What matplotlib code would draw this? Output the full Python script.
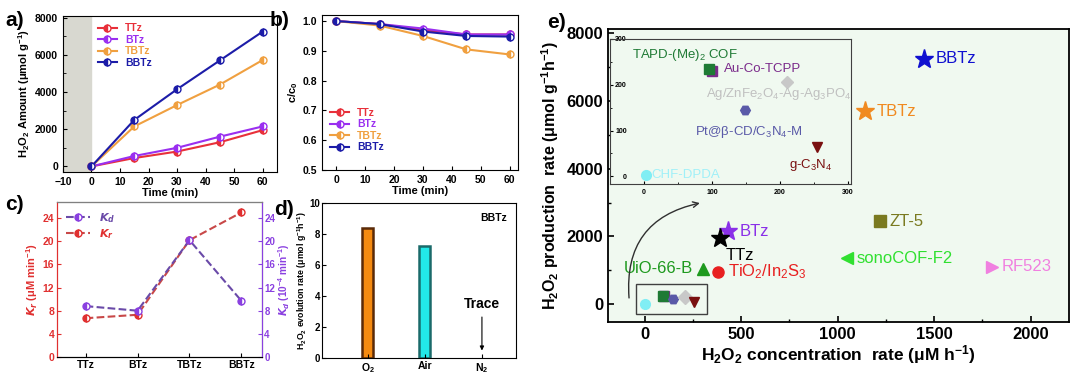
import numpy as np
import matplotlib
matplotlib.use('Agg')
from matplotlib import pyplot as plt
from matplotlib.ticker import MultipleLocator

plt.rcParams['font.family'] = ['Liberation Sans', 'DejaVu Sans']
plt.rcParams['font.weight'] = 'bold'
plt.rcParams['axes.labelweight'] = 'bold'
plt.rcParams['mathtext.default'] = 'regular'
plt.rcParams['xtick.direction'] = 'in'
plt.rcParams['ytick.direction'] = 'in'

# ---- data ----
samples = ['TTz', 'BTz', 'TBTz', 'BBTz']
sample_colors = ['#e8303a', '#9a2ff0', '#f0a040', '#1c1ca8']

time_min = [0, 15, 30, 45, 60]
h2o2_amount = {
    'TTz': [0, 450, 800, 1300, 1950],
    'BTz': [0, 560, 1000, 1600, 2150],
    'TBTz': [0, 2150, 3300, 4400, 5720],
    'BBTz': [0, 2500, 4150, 5700, 7250],
}
c_c0 = {
    'TTz': [1.0, 0.99, 0.970, 0.955, 0.955],
    'BTz': [1.0, 0.99, 0.975, 0.955, 0.955],
    'TBTz': [1.0, 0.985, 0.950, 0.905, 0.888],
    'BBTz': [1.0, 0.99, 0.965, 0.950, 0.948],
}

k_d = [8.8, 8.0, 20.2, 9.7]
k_r = [6.7, 7.3, 20.2, 25.0]

atmospheres = ['O$_2$', 'Air', 'N$_2$']
evolution_rate = [8.4, 7.25, 0.0]
bar_colors = ['#f58a10', '#22e8e8', '#ffffff']
bar_edges = ['#5a2a08', '#1a6a6a', '#ffffff']

# panel e main plot
ref_names = ['BBTz', 'TBTz', 'BTz', 'TTz', 'TiO$_2$/In$_2$S$_3$', 'UiO-66-B',
             'ZT-5', 'sonoCOF-F2', 'RF523']
ref_x = [1450, 1140, 430, 390, 380, 300, 1220, 1050, 1800]
ref_y = [7250, 5700, 2150, 1950, 950, 1050, 2450, 1350, 1100]
ref_marker = ['*', '*', '*', '*', 'o', '^', 's', '<', '>']
ref_color = ['#1010d0', '#f08a20', '#8a30e8', '#000000', '#e82020', '#1e9a1e',
             '#7a7a20', '#30e030', '#f080e0']

# low-value references (shown in the inset)
low_names = ['CHF-DPDA', 'TAPD-(Me)$_2$ COF', 'Au-Co-TCPP', 'Pt@\u03b2-CD/C$_3$N$_4$-M',
             'Ag/ZnFe$_2$O$_4$-Ag-Ag$_3$PO$_4$', 'g-C$_3$N$_4$']
low_x = [3, 100, 95, 148, 210, 255]
low_y = [3, 230, 235, 145, 205, 63]
low_marker = ['o', 's', 's', 'H', 'D', 'v']
low_color = ['#80eef4', '#7a2a8a', '#1f7a35', '#5a5aa8', '#c8c8c8', '#7a1010']

fig = plt.figure(figsize=(10.8, 3.78), dpi=100)

# ---- a) ----
ax_a = fig.add_axes([0.0583, 0.545, 0.198, 0.413])
ax_a.axvspan(-10, 0, color='#d8d8d0', zorder=0)
for name, col in zip(samples, sample_colors):
    ax_a.plot(time_min, h2o2_amount[name], '-o', color=col, lw=1.5, ms=5,
              fillstyle='left', markerfacecoloralt='white', mec=col, label=name)
ax_a.set_xlim(-10, 65)
ax_a.set_ylim(-300, 8100)
ax_a.set_xticks([-10, 0, 10, 20, 30, 40, 50, 60])
ax_a.set_yticks([0, 2000, 4000, 6000, 8000])
ax_a.yaxis.set_minor_locator(MultipleLocator(1000))
ax_a.tick_params(labelsize=7.5, length=3)
ax_a.tick_params(which='minor', length=2)
ax_a.set_xlabel('Time (min)', fontsize=8, labelpad=1)
ax_a.set_ylabel('H$_2$O$_2$ Amount (\u03bcmol g$^{-1}$)', fontsize=8, labelpad=2)
leg = ax_a.legend(loc='upper left', frameon=False, fontsize=7.5, handlelength=1.8,
                  labelspacing=0.15, borderpad=0.2, bbox_to_anchor=(0.13, 1.0))
for txt, col in zip(leg.get_texts(), sample_colors):
    txt.set_color(col)
fig.text(0.005, 0.93, 'a)', fontsize=15, fontweight='bold')

# ---- b) ----
ax_b = fig.add_axes([0.298, 0.550, 0.182, 0.410])
for name, col in zip(samples, sample_colors):
    ax_b.plot(time_min, c_c0[name], '-o', color=col, lw=1.5, ms=5,
              fillstyle='left', markerfacecoloralt='white', mec=col, label=name)
ax_b.set_xlim(-5, 63)
ax_b.set_ylim(0.5, 1.02)
ax_b.set_xticks([0, 10, 20, 30, 40, 50, 60])
ax_b.set_yticks([0.5, 0.6, 0.7, 0.8, 0.9, 1.0])
ax_b.tick_params(labelsize=7.5, length=3)
ax_b.set_xlabel('Time (min)', fontsize=8, labelpad=1)
ax_b.set_ylabel('c/c$_0$', fontsize=8, labelpad=2)
leg = ax_b.legend(loc='lower left', frameon=False, fontsize=7.5, handlelength=1.8,
                  labelspacing=0.15, borderpad=0.3, bbox_to_anchor=(0.0, 0.06))
for txt, col in zip(leg.get_texts(), sample_colors):
    txt.set_color(col)
fig.text(0.25, 0.93, 'b)', fontsize=15, fontweight='bold')

# ---- c) ----
ax_c = fig.add_axes([0.0528, 0.0556, 0.190, 0.410])
ax_c2 = ax_c.twinx()
xc = np.arange(len(samples))
ax_c2.plot(xc, k_d, '--o', color='#6a4aa8', lw=1.5, ms=5, fillstyle='left',
           markerfacecolor='#8a40e0', markerfacecoloralt='white', mec='#8a40e0',
           label='$\\mathit{K_d}$')
ax_c.plot(xc, k_r, '--o', color='#c84848', lw=1.5, ms=5, fillstyle='left',
          markerfacecolor='#e03030', markerfacecoloralt='white', mec='#e03030',
          label='$\\mathit{K_r}$')
for a in (ax_c, ax_c2):
    a.set_ylim(0, 26.8)
    a.set_yticks(range(0, 25, 4))
    a.tick_params(labelsize=7.5, length=3, pad=2)
ax_c2.tick_params(labelsize=7, pad=1.5)
ax_c.set_xlim(-0.55, 3.4)
ax_c.set_xticks(xc)
ax_c.set_xticklabels(samples)
ax_c.spines['left'].set_color('#e03030')
ax_c2.spines['left'].set_color('#e03030')
ax_c2.spines['right'].set_color('#8a40e0')
ax_c2.spines['top'].set_color('#808080')
ax_c.tick_params(axis='y', colors='#e03030')
ax_c2.tick_params(axis='y', colors='#8a40e0')
ax_c.set_ylabel('$\\mathit{K_r}$ (\u03bcM min$^{-1}$)', fontsize=8, color='#e03030', labelpad=2)
ax_c2.set_ylabel('$\\mathit{K_d}$ (10$^{-4}$ min$^{-1}$)', fontsize=7.2, color='#8a40e0', labelpad=0.5)
h1, l1 = ax_c2.get_legend_handles_labels()
h2, l2 = ax_c.get_legend_handles_labels()
leg = ax_c2.legend(h1 + h2, l1 + l2, loc='upper left', frameon=False, fontsize=8,
                   handlelength=2.2, labelspacing=0.2, borderpad=0.3)
for txt, col in zip(leg.get_texts(), ['#6a4aa8', '#e03030']):
    txt.set_color(col)
fig.text(0.005, 0.445, 'c)', fontsize=15, fontweight='bold')

# ---- d) ----
ax_d = fig.add_axes([0.298, 0.053, 0.180, 0.410])
xd = np.arange(len(atmospheres))
ax_d.bar(xd, evolution_rate, width=0.2, color=bar_colors, edgecolor=bar_edges, lw=1.8)
ax_d.set_xlim(-0.8, 2.6)
ax_d.set_ylim(0, 10)
ax_d.set_xticks(xd)
ax_d.set_xticklabels(atmospheres)
ax_d.set_yticks(range(0, 11, 2))
ax_d.tick_params(labelsize=7.5, length=3, pad=2)
ax_d.tick_params(axis='y', labelsize=7, pad=1)
ax_d.set_ylabel('H$_2$O$_2$ evolution rate (\u03bcmol g$^{-1}$h$^{-1}$)', fontsize=6.3, labelpad=0.5)
ax_d.text(0.95, 0.9, 'BBTz', transform=ax_d.transAxes, ha='right', va='center', fontsize=7.5)
ax_d.annotate('Trace', xy=(xd[2], 0.3), xytext=(xd[2], 3.0), ha='center', va='bottom',
              fontsize=10, arrowprops=dict(arrowstyle='-|>', color='black', lw=0.8,
                                           mutation_scale=6))
fig.text(0.254, 0.43, 'd)', fontsize=15, fontweight='bold')

# ---- e) ----
ax_e = fig.add_axes([0.563, 0.148, 0.427, 0.775])
ax_e.set_facecolor('#f0f9f0')
for name, x, y, m, col in zip(ref_names, ref_x, ref_y, ref_marker, ref_color):
    ms = 14 if m == '*' else 8
    ax_e.plot(x, y, m, color=col, ms=ms, mec=col, zorder=3)
for x, y, m, col in zip(low_x, low_y, low_marker, low_color):
    ax_e.plot(x, y, m, color=col, ms=7, zorder=3)
# labels in main plot
ax_e.text(ref_x[0] + 60, ref_y[0], 'BBTz', color=ref_color[0], fontsize=12, fontweight='normal', va='center')
ax_e.text(ref_x[1] + 60, ref_y[1], 'TBTz', color=ref_color[1], fontsize=12, fontweight='normal', va='center')
ax_e.text(ref_x[2] + 60, ref_y[2], 'BTz', color=ref_color[2], fontsize=12, fontweight='normal', va='center')
ax_e.text(ref_x[3] + 30, ref_y[3] - 300, 'TTz', color=ref_color[3], fontsize=12, fontweight='normal', va='top')
ax_e.text(ref_x[4] + 50, ref_y[4], 'TiO$_2$/In$_2$S$_3$', color=ref_color[4], fontsize=12,
          fontweight='normal', va='center')
ax_e.text(ref_x[5] - 50, ref_y[5], 'UiO-66-B', color=ref_color[5], fontsize=12,
          fontweight='normal', va='center', ha='right')
ax_e.text(ref_x[6] + 50, ref_y[6], 'ZT-5', color=ref_color[6], fontsize=12, fontweight='normal', va='center')
ax_e.text(ref_x[7] + 50, ref_y[7], 'sonoCOF-F2', color=ref_color[7], fontsize=12, fontweight='normal', va='center')
ax_e.text(ref_x[8] + 50, ref_y[8], 'RF523', color=ref_color[8], fontsize=12, fontweight='normal', va='center')
# box around the low-value points
ax_e.add_patch(plt.Rectangle((-45, -300), 370, 890, fill=False, ec='#404040', lw=1.0, zorder=4))
ax_e.annotate('', xy=(300, 3000), xytext=(-80, 100),
              arrowprops=dict(arrowstyle='->', color='#303030', lw=1.0,
                              connectionstyle='arc3,rad=-0.45'))
ax_e.set_xlim(-190, 2200)
ax_e.set_ylim(-530, 8120)
ax_e.set_xticks([0, 500, 1000, 1500, 2000])
ax_e.xaxis.set_minor_locator(MultipleLocator(250))
ax_e.set_yticks([0, 2000, 4000, 6000, 8000])
ax_e.yaxis.set_minor_locator(MultipleLocator(1000))
ax_e.tick_params(labelsize=12, length=4, width=1.2)
ax_e.tick_params(which='minor', length=2.5, width=1)
for s in ax_e.spines.values():
    s.set_linewidth(1.3)
ax_e.set_xlabel('H$_2$O$_2$ concentration  rate (\u03bcM h$^{-1}$)', fontsize=12.5, labelpad=1)
ax_e.set_ylabel('H$_2$O$_2$ production  rate (\u03bcmol g$^{-1}$h$^{-1}$)', fontsize=11.5, labelpad=4)
fig.text(0.507, 0.925, 'e)', fontsize=15, fontweight='bold')

# inset
ax_i = fig.add_axes([0.565, 0.513, 0.223, 0.384])
ax_i.set_facecolor('#f0f9f0')
for x, y, m, col in zip(low_x, low_y, low_marker, low_color):
    ax_i.plot(x, y, m, color=col, ms=7 if m != 'D' else 6)
ax_i.set_xlim(-50, 305)
ax_i.set_ylim(-17, 300)
ax_i.set_xticks([0, 100, 200, 300])
ax_i.set_yticks([0, 100, 200, 300])
ax_i.xaxis.set_minor_locator(MultipleLocator(50))
ax_i.yaxis.set_minor_locator(MultipleLocator(50))
ax_i.tick_params(labelsize=5, length=2)
ax_i.tick_params(axis='y', pad=-12)
ax_i.tick_params(which='minor', length=1.2)
for s in ax_i.spines.values():
    s.set_color('#404040')
ax_i.text(low_x[0] + 8, low_y[0], low_names[0], color='#a0f0f8', fontsize=9.5, fontweight='normal', va='center')
ax_i.text(-18, 265, low_names[1], color='#1f7a35', fontsize=9.5, fontweight='normal', va='center')
ax_i.text(low_x[2] + 22, low_y[2], low_names[2], color='#7a2a8a', fontsize=9.5, fontweight='normal', va='center')
ax_i.text(low_x[3] + 7, low_y[3] - 48, low_names[3], color='#5a5aa8', fontsize=9.5, fontweight='normal',
          va='center', ha='center')
ax_i.text(low_x[4] - 12, low_y[4] - 25, low_names[4], color='#c0c0c0', fontsize=9.5, fontweight='normal',
          va='center', ha='center')
ax_i.text(low_x[5] - 10, low_y[5] - 38, low_names[5], color='#7a1010', fontsize=9.5, fontweight='normal',
          va='center', ha='center')

fig.savefig('out.png', dpi=100)
